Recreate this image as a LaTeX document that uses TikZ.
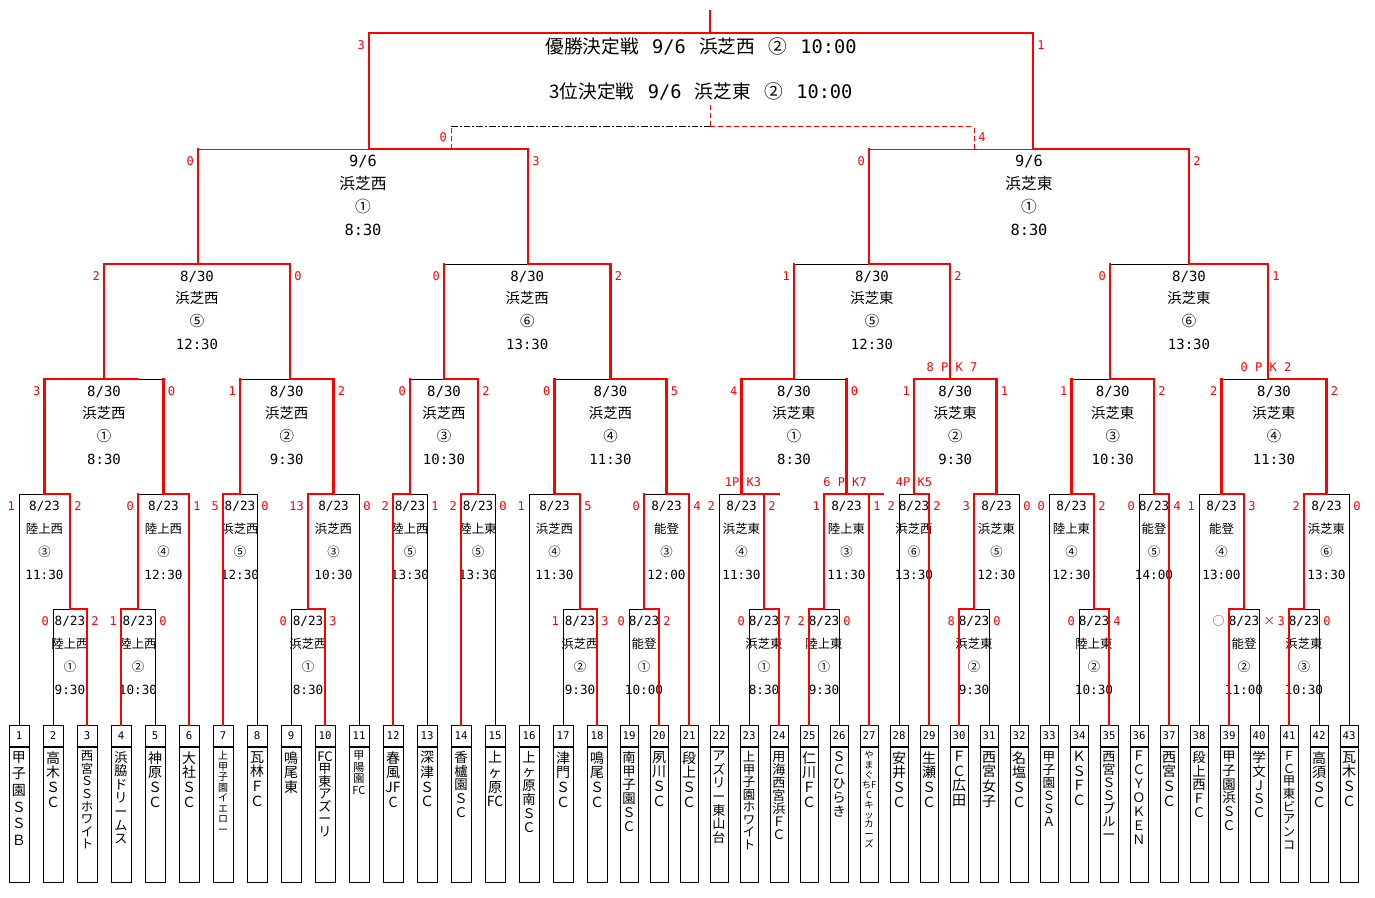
\documentclass[tikz,border=0pt]{standalone}
\usepackage{fontspec}
\setmainfont{Noto Sans CJK JP}
\newfontfamily\jpf{Noto Sans CJK JP}
\newfontfamily\numf{DejaVu Sans Mono}
\usetikzlibrary{positioning,calc}

\tikzset{
  wline/.style={draw=red, line width=1.6pt, line cap=rect},
  lline/.style={draw=black, line width=0.75pt, line cap=rect},
  tline/.style={draw=red, line width=0.75pt},
  dline/.style={draw=black, line width=0.75pt, dash pattern=on 5pt off 1.5pt on 1.5pt off 1.5pt},
  rdline/.style={draw=red, line width=0.75pt, dash pattern=on 4pt off 2pt},
  numbox/.style={draw, line width=0.75pt, inner sep=0pt, minimum height=15.75pt, font=\numf\fontsize{8}{8}\selectfont},
  namebox/.style={draw, line width=0.75pt, inner sep=0pt, minimum height=101.25pt},
  tname/.style={anchor=north, align=center, inner sep=0pt},
  lab1/.style={inner sep=0pt, font=\numf\fontsize{9.5}{9.5}\selectfont},
  lab2/.style={inner sep=0pt, font=\numf\fontsize{10.5}{10.5}\selectfont},
  lab3/.style={inner sep=0pt, font=\numf\fontsize{11.5}{11.5}\selectfont},
  kan1/.style={inner sep=0pt, font=\jpf\fontsize{9.3}{9.3}\selectfont},
  kan2/.style={inner sep=0pt, font=\jpf\fontsize{10.8}{10.8}\selectfont},
  kan3/.style={inner sep=0pt, font=\jpf\fontsize{11.8}{11.8}\selectfont},
  score/.style={inner sep=0pt, text=red, font=\numf\fontsize{9}{9}\selectfont},
  toptext/.style={inner sep=0pt, font=\jpf\fontsize{14}{14}\selectfont}
}

% one match: left, right, winner point, styles of the two uprights and two halves, scores
\newcommand{\bkt}[9]{%
  \draw[#6] (#1 |- #3) -- (#3);
  \draw[#7] (#3) -- (#2 |- #3);
  \draw[#4] (#1) -- (#1 |- #3);
  \draw[#5] (#2) -- (#2 |- #3);
  \node[score, anchor=east] (#3-ls) at ($(#1 |- #3)+(-4,12)$) {#8};
  \node[score, anchor=west] (#3-rs) at ($(#2 |- #3)+(4,12)$) {#9};
}
% date, ground, match number and time under a match line
\newcommand{\bktlab}[8]{%
  \coordinate (#3-m) at ($(#1 |- #3)!0.5!(#2 |- #3)$);
  \node[lab#4] (#3-d) at ($(#3-m)+(0,12.5)$) {#5};
  \node[kan#4] (#3-v) at ($(#3-m)+(0,34.5)$) {#6};
  \node[kan#4] (#3-c) at ($(#3-m)+(0,57.5)$) {#7};
  \node[lab#4] (#3-t) at ($(#3-m)+(0,80.5)$) {#8};
}

\begin{document}
\begin{tikzpicture}[x=0.75pt, y=-0.75pt]
\useasboundingbox (0,0) rectangle (1375,897);

% teams
\foreach \i/\x/\w/\fs/\bs/\nm in {
  1/19/15/10.5/12.5/{甲\\子\\園\\Ｓ\\Ｓ\\Ｂ},
  2/53/15/10.5/11/{高\\木\\Ｓ\\Ｃ},
  3/87/15/9.3/9.4/{西\\宮\\Ｓ\\Ｓ\\ホ\\ワ\\イ\\ト},
  4/121/15/9.8/10.2/{浜\\脇\\ド\\リ\\ー\\ム\\ス},
  5/155/15/10.5/11/{神\\原\\Ｓ\\Ｃ},
  6/189/15/10.5/11/{大\\社\\Ｓ\\Ｃ},
  7/223/15/7.5/7.9/{上\\甲\\子\\園\\イ\\エ\\ロ\\ー},
  8/257/15/10.5/11/{瓦\\林\\Ｆ\\Ｃ},
  9/291/15/10.5/11/{鳴\\尾\\東},
  10/325/15/9.8/9.4/{FC\\甲\\東\\ア\\ズ\\ー\\リ},
  11/359/15/8.3/8.6/{甲\\陽\\園\\FC},
  12/393/15/10.5/11/{春\\風\\JF\\C},
  13/427/15/10.5/11/{深\\津\\Ｓ\\Ｃ},
  14/461/15/10/10.3/{香\\櫨\\園\\Ｓ\\Ｃ},
  15/495/15/10.5/11/{上\\ヶ\\原\\FC},
  16/529/15/10/10.5/{上\\ヶ\\原\\南\\Ｓ\\Ｃ},
  17/563/15/10.5/11/{津\\門\\Ｓ\\Ｃ},
  18/597/15/10.5/11/{鳴\\尾\\Ｓ\\Ｃ},
  19/629/13.5/10/10.3/{南\\甲\\子\\園\\Ｓ\\Ｃ},
  20/659/13.5/10.5/11/{夙\\川\\Ｓ\\Ｃ},
  21/689/13.5/10.5/11/{段\\上\\Ｓ\\Ｃ},
  22/719/13.5/9.8/10.2/{ア\\ズ\\リ\\ー\\東\\山\\台},
  23/749/13.5/9.3/9.4/{上\\甲\\子\\園\\ホ\\ワ\\イ\\ト},
  24/779/13.5/9.8/9.8/{用\\海\llap{\raisebox{3pt}{\fontsize{5}{5}\selectfont ・}}\\西\\宮\\浜\\Ｆ\\Ｃ},
  25/809/13.5/10.5/11/{仁\\川\\Ｆ\\Ｃ},
  26/839/13.5/10/10.3/{Ｓ\\Ｃ\\ひ\\ら\\き},
  27/869/13.5/7/7.4/{や\\ま\\ぐ\\ちF\\C\\キ\\ッ\\カ\\ー\\ズ},
  28/899/13.5/10.5/11/{安\\井\\Ｓ\\Ｃ},
  29/929/13.5/10.5/11/{生\\瀬\\Ｓ\\Ｃ},
  30/959/13.5/10.5/11/{Ｆ\\Ｃ\\広\\田},
  31/989/13.5/10.5/11/{西\\宮\\女\\子},
  32/1019/13.5/10.5/11/{名\\塩\\Ｓ\\Ｃ},
  33/1049/13.5/9.5/9.8/{甲\\子\\園\\Ｓ\\Ｓ\\Ａ},
  34/1079/13.5/10.5/11/{Ｋ\\Ｓ\\Ｆ\\Ｃ},
  35/1109/13.5/9.8/9.8/{西\\宮\\Ｓ\\Ｓ\\ブ\\ル\\ー},
  36/1139/13.5/9.8/10.4/{Ｆ\\Ｃ\\Ｙ\\Ｏ\\Ｋ\\Ｅ\\Ｎ},
  37/1169/13.5/10.5/11/{西\\宮\\Ｓ\\Ｃ},
  38/1199/13.5/10/10.3/{段\\上\\西\\Ｆ\\Ｃ},
  39/1229/13.5/10/10.3/{甲\\子\\園\\浜\\Ｓ\\Ｃ},
  40/1259/13.5/10/10.3/{学\\文\\Ｊ\\Ｓ\\Ｃ},
  41/1289/13.5/9.3/9.5/{Ｆ\\Ｃ\\甲\\東\\ビ\\ア\\ン\\コ},
  42/1319/13.5/10.5/11/{高\\須\\Ｓ\\Ｃ},
  43/1349/13.5/10.5/11/{瓦\\木\\Ｓ\\Ｃ}}{
  \node[numbox, minimum width=\w pt, anchor=north] (n\i) at (\x,725) {\i};
  \node[namebox, minimum width=\w pt, below=0pt of n\i] (t\i) {};
  \node[tname, font=\jpf\fontsize{\fs}{\bs}\selectfont] (nm\i) at ([yshift=-3pt]t\i.north) {\nm};
}

% winner points
\coordinate (a1) at (70,609);
\coordinate (a2) at (138,609);
\coordinate (a3) at (308,609);
\coordinate (a4) at (580,609);
\coordinate (a5) at (644,609);
\coordinate (a6) at (764,609);
\coordinate (a7) at (824,609);
\coordinate (a8) at (974,609);
\coordinate (a9) at (1094,609);
\coordinate (a10) at (1244,609);
\coordinate (a11) at (1304,609);
\coordinate (b1) at (44.5,494);
\coordinate (b2) at (163.5,494);
\coordinate (b3) at (240,494);
\coordinate (b4) at (333.5,494);
\coordinate (b5) at (410,494);
\coordinate (b6) at (478,494);
\coordinate (b7) at (554.5,494);
\coordinate (b8) at (666.5,494);
\coordinate (b9) at (741.5,494);
\coordinate (b10) at (846.5,494);
\coordinate (b11) at (914,494);
\coordinate (b12) at (996.5,494);
\coordinate (b13) at (1071.5,494);
\coordinate (b14) at (1154,494);
\coordinate (b15) at (1221.5,494);
\coordinate (b16) at (1326.5,494);
\coordinate (c1) at (104,379);
\coordinate (c2) at (290,379);
\coordinate (c3) at (444,379);
\coordinate (c4) at (610.5,379);
\coordinate (c5) at (794,379);
\coordinate (c6) at (950,379);
\coordinate (c7) at (1110,379);
\coordinate (c8) at (1268,379);
\coordinate (d1) at (198,264);
\coordinate (d2) at (528,264);
\coordinate (d3) at (869,264);
\coordinate (d4) at (1189,264);
\coordinate (e1) at (369,149);
\coordinate (e2) at (1033,149);
\coordinate (f) at (710,33);
\coordinate (f-top) at (710,11);

% texts of the matches
\bktlab{n2.north}{n3.north}{a1}{1}{8/23}{陸上西}{①}{9:30}
\bktlab{n4.north}{n5.north}{a2}{1}{8/23}{陸上西}{②}{10:30}
\bktlab{n9.north}{n10.north}{a3}{1}{8/23}{浜芝西}{①}{8:30}
\bktlab{n17.north}{n18.north}{a4}{1}{8/23}{浜芝西}{②}{9:30}
\bktlab{n19.north}{n20.north}{a5}{1}{8/23}{能登}{①}{10:00}
\bktlab{n23.north}{n24.north}{a6}{1}{8/23}{浜芝東}{①}{8:30}
\bktlab{n25.north}{n26.north}{a7}{1}{8/23}{陸上東}{①}{9:30}
\bktlab{n30.north}{n31.north}{a8}{1}{8/23}{浜芝東}{②}{9:30}
\bktlab{n34.north}{n35.north}{a9}{1}{8/23}{陸上東}{②}{10:30}
\bktlab{n39.north}{n40.north}{a10}{1}{8/23}{能登}{②}{11:00}
\bktlab{n41.north}{n42.north}{a11}{1}{8/23}{浜芝東}{③}{10:30}
\bktlab{n1.north}{a1}{b1}{1}{8/23}{陸上西}{③}{11:30}
\bktlab{a2}{n6.north}{b2}{1}{8/23}{陸上西}{④}{12:30}
\bktlab{n7.north}{n8.north}{b3}{1}{8/23}{浜芝西}{⑤}{12:30}
\bktlab{a3}{n11.north}{b4}{1}{8/23}{浜芝西}{③}{10:30}
\bktlab{n12.north}{n13.north}{b5}{1}{8/23}{陸上西}{⑤}{13:30}
\bktlab{n14.north}{n15.north}{b6}{1}{8/23}{陸上東}{⑤}{13:30}
\bktlab{n16.north}{a4}{b7}{1}{8/23}{浜芝西}{④}{11:30}
\bktlab{a5}{n21.north}{b8}{1}{8/23}{能登}{③}{12:00}
\bktlab{n22.north}{a6}{b9}{1}{8/23}{浜芝東}{④}{11:30}
\bktlab{a7}{n27.north}{b10}{1}{8/23}{陸上東}{③}{11:30}
\bktlab{n28.north}{n29.north}{b11}{1}{8/23}{浜芝西}{⑥}{13:30}
\bktlab{a8}{n32.north}{b12}{1}{8/23}{浜芝東}{⑤}{12:30}
\bktlab{n33.north}{a9}{b13}{1}{8/23}{陸上東}{④}{12:30}
\bktlab{n36.north}{n37.north}{b14}{1}{8/23}{能登}{⑤}{14:00}
\bktlab{n38.north}{a10}{b15}{1}{8/23}{能登}{④}{13:00}
\bktlab{a11}{n43.north}{b16}{1}{8/23}{浜芝東}{⑥}{13:30}
\bktlab{b1}{b2}{c1}{2}{8/30}{浜芝西}{①}{8:30}
\bktlab{b3}{b4}{c2}{2}{8/30}{浜芝西}{②}{9:30}
\bktlab{b5}{b6}{c3}{2}{8/30}{浜芝西}{③}{10:30}
\bktlab{b7}{b8}{c4}{2}{8/30}{浜芝西}{④}{11:30}
\bktlab{b9}{b10}{c5}{2}{8/30}{浜芝東}{①}{8:30}
\bktlab{b11}{b12}{c6}{2}{8/30}{浜芝東}{②}{9:30}
\bktlab{b13}{b14}{c7}{2}{8/30}{浜芝東}{③}{10:30}
\bktlab{b15}{b16}{c8}{2}{8/30}{浜芝東}{④}{11:30}
\bktlab{c1}{c2}{d1}{2}{8/30}{浜芝西}{⑤}{12:30}
\bktlab{c3}{c4}{d2}{2}{8/30}{浜芝西}{⑥}{13:30}
\bktlab{c5}{c6}{d3}{2}{8/30}{浜芝東}{⑤}{12:30}
\bktlab{c7}{c8}{d4}{2}{8/30}{浜芝東}{⑥}{13:30}
\bktlab{d1}{d2}{e1}{3}{9/6}{浜芝西}{①}{8:30}
\bktlab{d3}{d4}{e2}{3}{9/6}{浜芝東}{①}{8:30}
\node[toptext] (f-t1) at (701,46.5) {優勝決定戦\hspace{10pt}{\numf 9/6}\hspace{10pt}浜芝西\hspace{10pt}②\hspace{10pt}{\numf 10:00}};
\node[toptext] (f-t2) at (701,91.5) {3位決定戦\hspace{10pt}{\numf 9/6}\hspace{10pt}浜芝東\hspace{10pt}②\hspace{10pt}{\numf 10:00}};

% lines and scores, first round up
\bkt{n2.north}{n3.north}{a1}{lline}{wline}{lline}{wline}{0}{2}
\bkt{n4.north}{n5.north}{a2}{wline}{lline}{wline}{lline}{1}{0}
\bkt{n9.north}{n10.north}{a3}{lline}{wline}{lline}{wline}{0}{3}
\bkt{n17.north}{n18.north}{a4}{lline}{wline}{lline}{wline}{1}{3}
\bkt{n19.north}{n20.north}{a5}{lline}{wline}{lline}{wline}{0}{2}
\bkt{n23.north}{n24.north}{a6}{lline}{wline}{lline}{wline}{0}{7}
\bkt{n25.north}{n26.north}{a7}{wline}{lline}{wline}{lline}{2}{0}
\bkt{n30.north}{n31.north}{a8}{wline}{lline}{wline}{lline}{8}{0}
\bkt{n34.north}{n35.north}{a9}{lline}{wline}{lline}{wline}{0}{4}
\bkt{n39.north}{n40.north}{a10}{wline}{lline}{wline}{lline}{{\jpf ○}}{{\jpf ×}}
\bkt{n41.north}{n42.north}{a11}{wline}{lline}{wline}{lline}{3}{0}

\bkt{n1.north}{a1}{b1}{lline}{wline}{lline}{wline}{1}{2}
\bkt{a2}{n6.north}{b2}{wline}{wline}{lline}{wline}{0}{1}
\bkt{n7.north}{n8.north}{b3}{wline}{lline}{wline}{lline}{5}{0}
\bkt{a3}{n11.north}{b4}{wline}{lline}{wline}{lline}{13}{0}
\bkt{n12.north}{n13.north}{b5}{wline}{lline}{wline}{lline}{2}{1}
\bkt{n14.north}{n15.north}{b6}{wline}{lline}{wline}{lline}{2}{0}
\bkt{n16.north}{a4}{b7}{lline}{wline}{lline}{wline}{1}{5}
\bkt{a5}{n21.north}{b8}{wline}{wline}{lline}{wline}{0}{4}
\bkt{n22.north}{a6}{b9}{lline}{wline}{lline}{wline}{2}{2}
\bkt{a7}{n27.north}{b10}{wline}{wline}{wline}{wline}{1}{1}
\bkt{n28.north}{n29.north}{b11}{lline}{wline}{lline}{wline}{2}{2}
\bkt{a8}{n32.north}{b12}{wline}{lline}{wline}{lline}{3}{0}
\bkt{n33.north}{a9}{b13}{lline}{wline}{lline}{wline}{0}{2}
\bkt{n36.north}{n37.north}{b14}{lline}{wline}{lline}{wline}{0}{4}
\bkt{n38.north}{a10}{b15}{lline}{wline}{lline}{wline}{1}{3}
\bkt{a11}{n43.north}{b16}{wline}{lline}{wline}{lline}{2}{0}
\coordinate (b9x) at (779,494);
\coordinate (b10x) at (883,494);
\draw[wline] (a6 |- b9) -- (b9x);
\draw[wline] (n27.north |- b10) -- (b10x);

\bkt{b1}{b2}{c1}{wline}{wline}{wline}{lline}{3}{0}
\bkt{b3}{b4}{c2}{wline}{wline}{lline}{wline}{1}{2}
\bkt{b5}{b6}{c3}{wline}{wline}{lline}{wline}{0}{2}
\bkt{b7}{b8}{c4}{wline}{wline}{lline}{wline}{0}{5}
\bkt{b9}{b10}{c5}{wline}{wline}{wline}{lline}{4}{0}
\bkt{b11}{b12}{c6}{wline}{wline}{wline}{wline}{1}{1}
\bkt{b13}{b14}{c7}{wline}{wline}{lline}{wline}{1}{2}
\bkt{b15}{b16}{c8}{wline}{wline}{lline}{wline}{2}{2}
\coordinate (c1x) at (138,379);
\draw[wline] (c1) -- (c1x);

\bkt{c1}{c2}{d1}{wline}{wline}{wline}{wline}{2}{0}
\bkt{c3}{c4}{d2}{wline}{wline}{lline}{wline}{0}{2}
\bkt{c5}{c6}{d3}{wline}{wline}{lline}{wline}{1}{2}
\bkt{c7}{c8}{d4}{wline}{wline}{lline}{wline}{0}{1}

\bkt{d1}{d2}{e1}{wline}{wline}{tline}{wline}{0}{3}
\bkt{d3}{d4}{e2}{wline}{wline}{tline}{wline}{0}{2}

\bkt{e1}{e2}{f}{wline}{wline}{wline}{wline}{3}{1}
\draw[wline] (f) -- (f-top);

% penalty kicks
\node[score] (b9-pk) at (743,482) {1P K3};
\node[score] (b10-pk) at (845,482) {6 P K7};
\node[score] (b11-pk) at (914,482) {4P K5};
\node[score] (c6-pk) at (952,367) {8 P K 7};
\node[score] (c8-pk) at (1266,367) {0 P K 2};

% third place
\coordinate (q1) at (451,149);
\coordinate (q2) at (974,149);
\coordinate (q) at (710,126);
\coordinate (q-top) at (710,102);
\draw[dline] (q1 |- q) -- (q);
\draw[rdline] (q) -- (q2 |- q);
\draw[rdline] (q1) -- (q1 |- q);
\draw[rdline] (q2) -- (q2 |- q);
\draw[rdline] (q) -- (q-top);
\node[score, anchor=east] (q-ls) at (447,137) {0};
\node[score, anchor=west] (q-rs) at (978,137) {4};
\end{tikzpicture}
\end{document}
